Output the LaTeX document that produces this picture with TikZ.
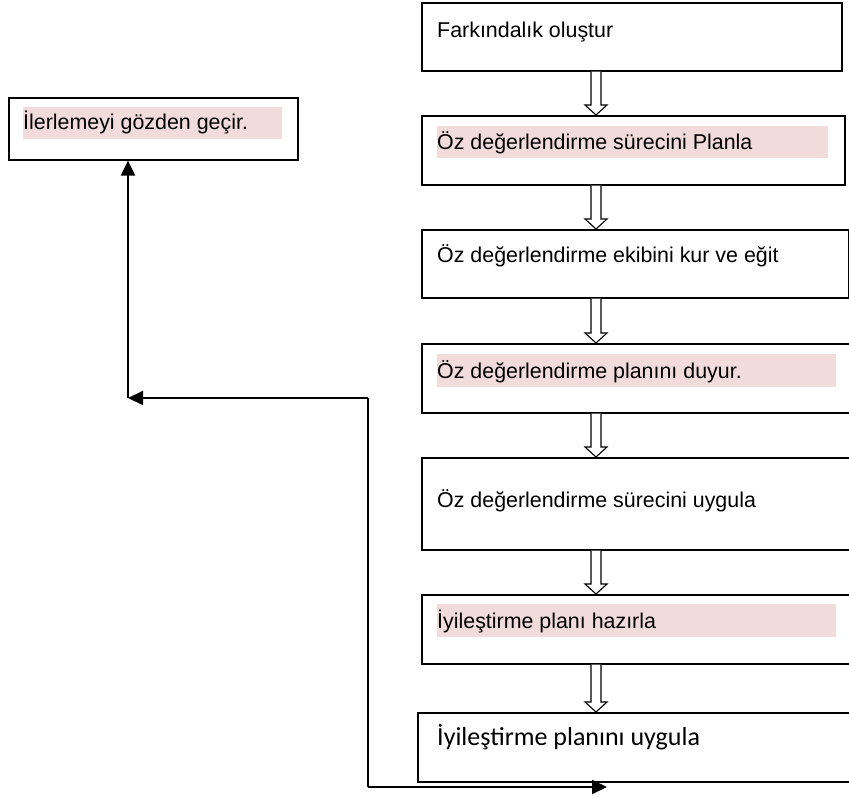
\documentclass[tikz,border=0pt]{standalone}
\usepackage{fontspec}
\setmainfont{Liberation Sans}
\newfontfamily\calib{Carlito}
\usetikzlibrary{arrows.meta,calc}
\definecolor{hlpink}{HTML}{F2DCDB}
\tikzset{
  stepbox/.style={draw=black, line width=1.6pt, fill=none},
  txt/.style={anchor=base west, inner sep=0pt, font=\fontsize{21.4}{25}\selectfont},
  txtc/.style={anchor=base west, inner sep=0pt, font=\calib\fontsize{26}{30}\selectfont},
  hollow/.style={draw=black, line width=1.1pt, fill=white, line join=miter},
  conn/.style={draw=black, line width=2pt, -{Triangle[length=15pt,width=14pt]}},
  plain/.style={draw=black, line width=2pt}
}
\newcommand{\hollowarrow}[2]{%
  \path[hollow] let \p1=(#1.south), \p2=(#2.north) in
    (591pt,\y1) -- (591pt,\y2+10pt) -- (585pt,\y2+10pt) -- (596pt,\y2) --
    (607pt,\y2+10pt) -- (601pt,\y2+10pt) -- (601pt,\y1);}
\begin{document}
\begin{tikzpicture}[x=1pt,y=-1pt]
\useasboundingbox (0,0) rectangle (849,799);
% highlights
\fill[hlpink] (437,126) rectangle (828,158);
\fill[hlpink] (437,354) rectangle (836,387);
\fill[hlpink] (437,604) rectangle (836,637);
\fill[hlpink] (23,107) rectangle (282,139);
% boxes
\node[stepbox, inner sep=0pt, minimum width=420pt, minimum height=68pt, anchor=north west] (b1) at (421,2) {};
\node[stepbox, inner sep=0pt, minimum width=423pt, minimum height=69pt, anchor=north west] (b2) at (421,115) {};
\node[stepbox, inner sep=0pt, minimum width=427pt, minimum height=68pt, anchor=north west] (b3) at (421,229) {};
\node[stepbox, inner sep=0pt, minimum width=440pt, minimum height=69pt, anchor=north west] (b4) at (421,343) {};
\node[stepbox, inner sep=0pt, minimum width=440pt, minimum height=92pt, anchor=north west] (b5) at (421,457) {};
\node[stepbox, inner sep=0pt, minimum width=440pt, minimum height=69pt, anchor=north west] (b6) at (421,594) {};
\node[stepbox, inner sep=0pt, minimum width=444pt, minimum height=69pt, anchor=north west] (b7) at (417,712) {};
\node[stepbox, inner sep=0pt, minimum width=289pt, minimum height=62pt, anchor=north west] (L) at (8,97) {};
% texts
\node[txt] (t1) at (437,38) {Farkındalık oluştur};
\node[txt] (t2) at (437,150) {Öz değerlendirme sürecini Planla};
\node[txt] (t3) at (437,263) {Öz değerlendirme ekibini kur ve eğit};
\node[txt] (t4) at (437,379) {Öz değerlendirme planını duyur.};
\node[txt] (t5) at (437,507) {Öz değerlendirme sürecini uygula};
\node[txt] (t6) at (437,628) {İyileştirme planı hazırla};
\node[txtc] (t7) at (437,745) {İyileştirme planını uygula};
\node[txt] (tL) at (23,130) {İlerlemeyi gözden geçir.};
% hollow arrows
\hollowarrow{b1}{b2}
\hollowarrow{b2}{b3}
\hollowarrow{b3}{b4}
\hollowarrow{b4}{b5}
\hollowarrow{b5}{b6}
\hollowarrow{b6}{b7}
% feedback connectors
\coordinate (c1) at (368,787);
\coordinate (c2) at (607,787);
\coordinate (c3) at (368,398);
\coordinate (c4) at (128,398);
\draw[conn] (c1) -- (c2);
\draw[plain] (c1) -- (c3);
\draw[conn] (c3) -- (c4);
\draw[conn] (c4) -- (c4 |- L.south);
\end{tikzpicture}
\end{document}
